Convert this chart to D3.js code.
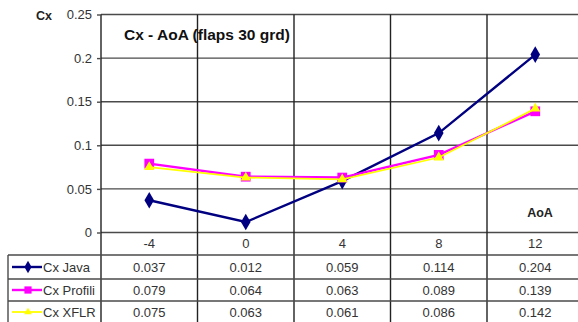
<!DOCTYPE html>
<html><head><meta charset="utf-8">
<script src="https://cdn.jsdelivr.net/npm/d3@7"></script>
<style>body{margin:0;background:#fff;overflow:hidden}svg{display:block;font-family:Arial,"Liberation Sans",sans-serif}</style>
</head><body>
<script>
const categories = [-4, 0, 4, 8, 12];
const cxJava = [0.037, 0.012, 0.059, 0.114, 0.204];
const cxProfili = [0.079, 0.064, 0.063, 0.089, 0.139];
const cxXFLR = [0.075, 0.063, 0.061, 0.086, 0.142];
const yTicks = [0, 0.05, 0.1, 0.15, 0.2, 0.25];
const yTickLabels = ["0", "0.05", "0.1", "0.15", "0.2", "0.25"];
const seriesNames = ["Cx Java", "Cx Profili", "Cx XFLR"];
const chartTitle = "Cx - AoA (flaps 30 grd)";

const W = 578, H = 322;
const svg = d3.select("body").append("svg").attr("width", W).attr("height", H);

const x = d3.scaleBand().domain(categories).range([101, 583.5]).padding(0);
const y = d3.scaleLinear().domain([0, 0.25]).range([232.5, 14.5]);

const gridCol = "#4a4a4a";
const series = [
  {name: seriesNames[0], values: cxJava, color: "#000080", sym: d3.symbolDiamond, size: 80, lw: 2.4},
  {name: seriesNames[1], values: cxProfili, color: "#FF00FF", sym: d3.symbolSquare, size: 95, lw: 2.4},
  {name: seriesNames[2], values: cxXFLR, color: "#FFFF00", sym: d3.symbolTriangle, size: 45, lw: 1.8}
];

// horizontal gridlines
svg.append("g").selectAll("line").data(yTicks).join("line")
  .attr("x1", 101).attr("x2", W).attr("y1", d => y(d)).attr("y2", d => y(d))
  .attr("stroke", gridCol).attr("stroke-width", 1.4);

// vertical category lines (boundaries)
const bounds = categories.map(c => x(c)).concat([x(categories[categories.length-1]) + x.bandwidth()]);
svg.append("g").selectAll("line").data(bounds).join("line")
  .attr("x1", d => d).attr("x2", d => d).attr("y1", y(0.25)).attr("y2", H)
  .attr("stroke", "#222").attr("stroke-width", 1.4);

// y axis
const yAxis = d3.axisLeft(y).tickValues(yTicks).tickSize(4).tickPadding(5)
  .tickFormat((d, i) => yTickLabels[i]);
const ga = svg.append("g").attr("transform", "translate(101,0)").call(yAxis);
ga.select(".domain").remove();
ga.selectAll(".tick line").attr("stroke", gridCol).attr("stroke-width", 1.4);
ga.selectAll(".tick text").attr("font-size", 13).attr("fill", "#333")
  .attr("font-family", "Arial, 'Liberation Sans', sans-serif");

// axis titles
svg.append("text").attr("x", 44).attr("y", 20).attr("text-anchor", "middle")
  .attr("font-size", 12.5).attr("font-weight", "bold").attr("fill", "#222").text("Cx");
svg.append("text").attr("x", 540).attr("y", 217).attr("text-anchor", "middle")
  .attr("font-size", 12.5).attr("font-weight", "bold").attr("fill", "#222").text("AoA");
svg.append("text").attr("x", 124).attr("y", 39.5).attr("font-size", 15.5)
  .attr("font-weight", "bold").attr("fill", "#111").text(chartTitle);

// data table
const rowLines = [255, 279, 301, 323];
svg.append("g").selectAll("line").data(rowLines).join("line")
  .attr("x1", 8).attr("x2", W).attr("y1", d => d).attr("y2", d => d)
  .attr("stroke", gridCol).attr("stroke-width", 1.4);
svg.append("line").attr("x1", 8).attr("x2", 8).attr("y1", 255).attr("y2", H)
  .attr("stroke", gridCol).attr("stroke-width", 1.4);

// category labels
svg.append("g").selectAll("text").data(categories).join("text")
  .attr("x", d => x(d) + x.bandwidth()/2).attr("y", 248)
  .attr("text-anchor", "middle").attr("font-size", 13).attr("fill", "#333").text(d => d);

const rowMid = [267, 290, 312];
series.forEach((s, i) => {
  const g = svg.append("g");
  g.selectAll("text").data(s.values).join("text")
    .attr("x", (d, j) => x(categories[j]) + x.bandwidth()/2).attr("y", rowMid[i] + 5)
    .attr("text-anchor", "middle").attr("font-size", 13).attr("fill", "#333")
    .text(d => d.toFixed(3));
  // legend key
  g.append("line").attr("x1", 12).attr("x2", 42).attr("y1", rowMid[i]).attr("y2", rowMid[i])
    .attr("stroke", s.color).attr("stroke-width", s.lw);
  g.append("path").attr("d", d3.symbol(s.sym, s.size * 0.55)())
    .attr("transform", `translate(28,${rowMid[i]})`).attr("fill", s.color);
  g.append("text").attr("x", 43).attr("y", rowMid[i] + 5).attr("font-size", 13)
    .attr("fill", "#333").text(s.name);
});

// series lines and markers
const line = d3.line().x((d, j) => x(categories[j]) + x.bandwidth()/2).y(d => y(d));
series.forEach(s => {
  svg.append("path").datum(s.values).attr("d", line).attr("fill", "none")
    .attr("stroke", s.color).attr("stroke-width", s.lw);
  svg.append("g").selectAll("path").data(s.values).join("path")
    .attr("d", d3.symbol(s.sym, s.size)())
    .attr("transform", (d, j) => `translate(${x(categories[j]) + x.bandwidth()/2},${y(d)})`)
    .attr("fill", s.color);
});
</script>
</body></html>
